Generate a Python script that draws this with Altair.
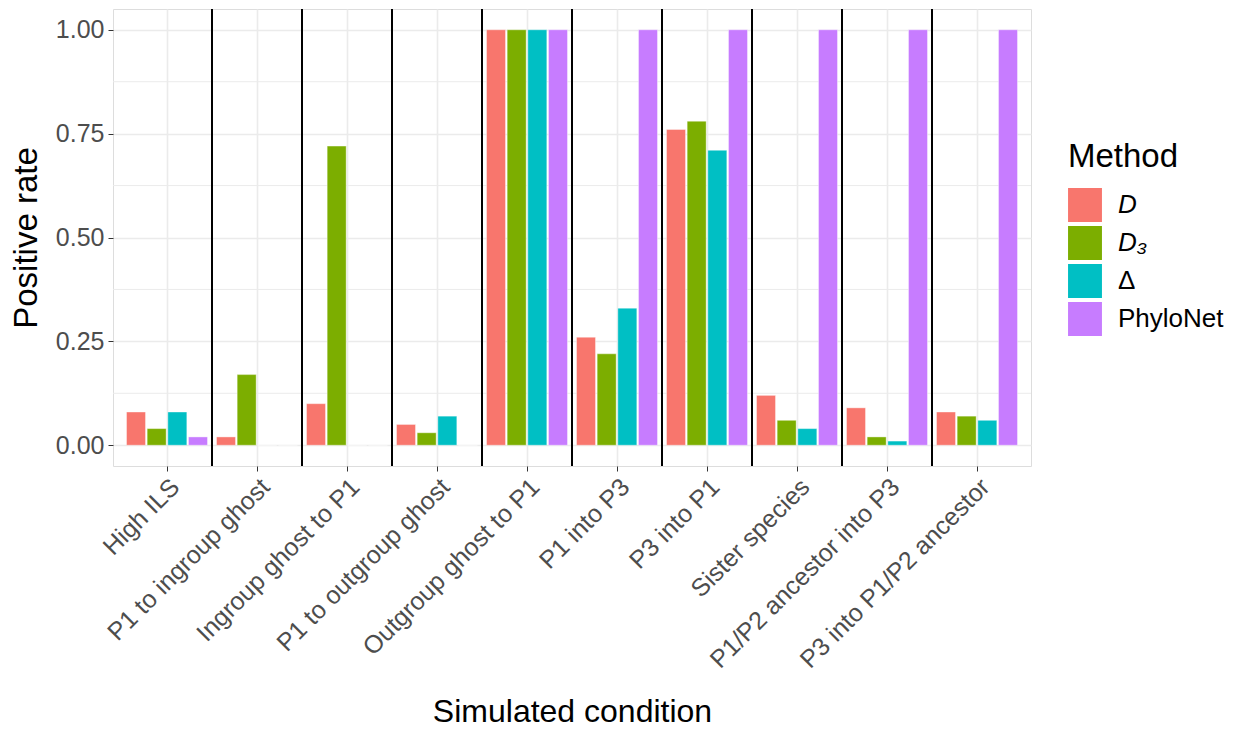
import altair as alt
import pandas as pd

conditions = ["High ILS", "P1 to ingroup ghost", "Ingroup ghost to P1", "P1 to outgroup ghost",
              "Outgroup ghost to P1", "P1 into P3", "P3 into P1", "Sister species",
              "P1/P2 ancestor into P3", "P3 into P1/P2 ancestor"]
methods = ["D", "D₃", "Δ", "PhyloNet"]
colors = ["#F8766D", "#7CAE00", "#00BFC4", "#C77CFF"]

rate_D = [0.08, 0.02, 0.10, 0.05, 1.00, 0.26, 0.76, 0.12, 0.09, 0.08]
rate_D3 = [0.04, 0.17, 0.72, 0.03, 1.00, 0.22, 0.78, 0.06, 0.02, 0.07]
rate_Delta = [0.08, 0.00, 0.00, 0.07, 1.00, 0.33, 0.71, 0.04, 0.01, 0.06]
rate_PhyloNet = [0.02, 0.00, 0.00, 0.00, 1.00, 1.00, 1.00, 1.00, 1.00, 1.00]

minor_y = [0.125, 0.375, 0.625, 0.875]

rows = []
for m, vals in zip(methods, [rate_D, rate_D3, rate_Delta, rate_PhyloNet]):
    for c, v in zip(conditions, vals):
        rows.append({"cond": c, "method": m, "rate": v})
df = pd.DataFrame(rows)

sep_df = pd.DataFrame({"cond": conditions[1:]})
minor_df = pd.DataFrame({"v": minor_y})

FONT = "Liberation Sans"

xscale = alt.Scale(domain=conditions, paddingInner=0, paddingOuter=0.1)
yscale = alt.Scale(domain=[-0.05, 1.05], nice=False, zero=False)

minor = alt.Chart(minor_df).mark_rule(color="#EBEBEB", strokeWidth=1).encode(
    y=alt.Y("v:Q", scale=yscale)
)

bars = alt.Chart(df).mark_bar(stroke="white", strokeWidth=0.4).encode(
    x=alt.X("cond:N", sort=conditions, scale=xscale,
            axis=alt.Axis(title="Simulated condition", labelAngle=-45, labelAlign="right",
                          labelBaseline="top", bandPosition=0.5, grid=True, labelLimit=0,
                          labelFontSize=25, labelColor="#4D4D4D", titleFontSize=32,
                          titleColor="black", titleFontWeight="normal", titlePadding=30,
                          tickColor="#333333", tickSize=5, labelPadding=3, domain=False,
                          gridColor="#EBEBEB", gridWidth=1.6, labelFont=FONT, titleFont=FONT)),
    xOffset=alt.XOffset("method:N", sort=methods,
                        scale=alt.Scale(paddingInner=0.08, paddingOuter=0.218)),
    y=alt.Y("rate:Q", scale=yscale,
            axis=alt.Axis(title="Positive rate", values=[0, 0.25, 0.5, 0.75, 1.0], format=".2f",
                          labelFontSize=25, labelColor="#4D4D4D", titleFontSize=33,
                          titleColor="black", titleFontWeight="normal", titlePadding=12,
                          tickColor="#333333", tickSize=5, labelPadding=4, domain=False,
                          gridColor="#EBEBEB", gridWidth=1.6, labelFont=FONT, titleFont=FONT)),
    color=alt.Color("method:N", sort=methods,
                    scale=alt.Scale(domain=methods, range=colors),
                    legend=alt.Legend(title="Method", titleFontSize=33, titleFontWeight="normal",
                                      titleColor="black", labelFontSize=26, labelColor="black",
                                      symbolType="square", symbolSize=1150, symbolStrokeWidth=0,
                                      symbolOpacity=1, labelOffset=16, rowPadding=4,
                                      titlePadding=14, orient="none", legendX=955, legendY=132,
                                      labelFont=FONT, titleFont=FONT,
                                      labelFontStyle={"expr": "(datum.label == 'D' || datum.label == 'D₃') ? 'italic' : 'normal'"})),
)

seps = alt.Chart(sep_df).mark_rule(color="black", strokeWidth=2).encode(
    x=alt.X("cond:N", sort=conditions, scale=xscale, bandPosition=0)
)

chart = alt.layer(minor, bars, seps).properties(
    width=918, height=457,
    padding={"left": 2, "top": 0, "right": 5, "bottom": 0},
).configure_view(stroke="#333333", strokeWidth=1.2).configure(font=FONT)

chart.save("out.html", embed_options={"renderer": "svg", "actions": False})
